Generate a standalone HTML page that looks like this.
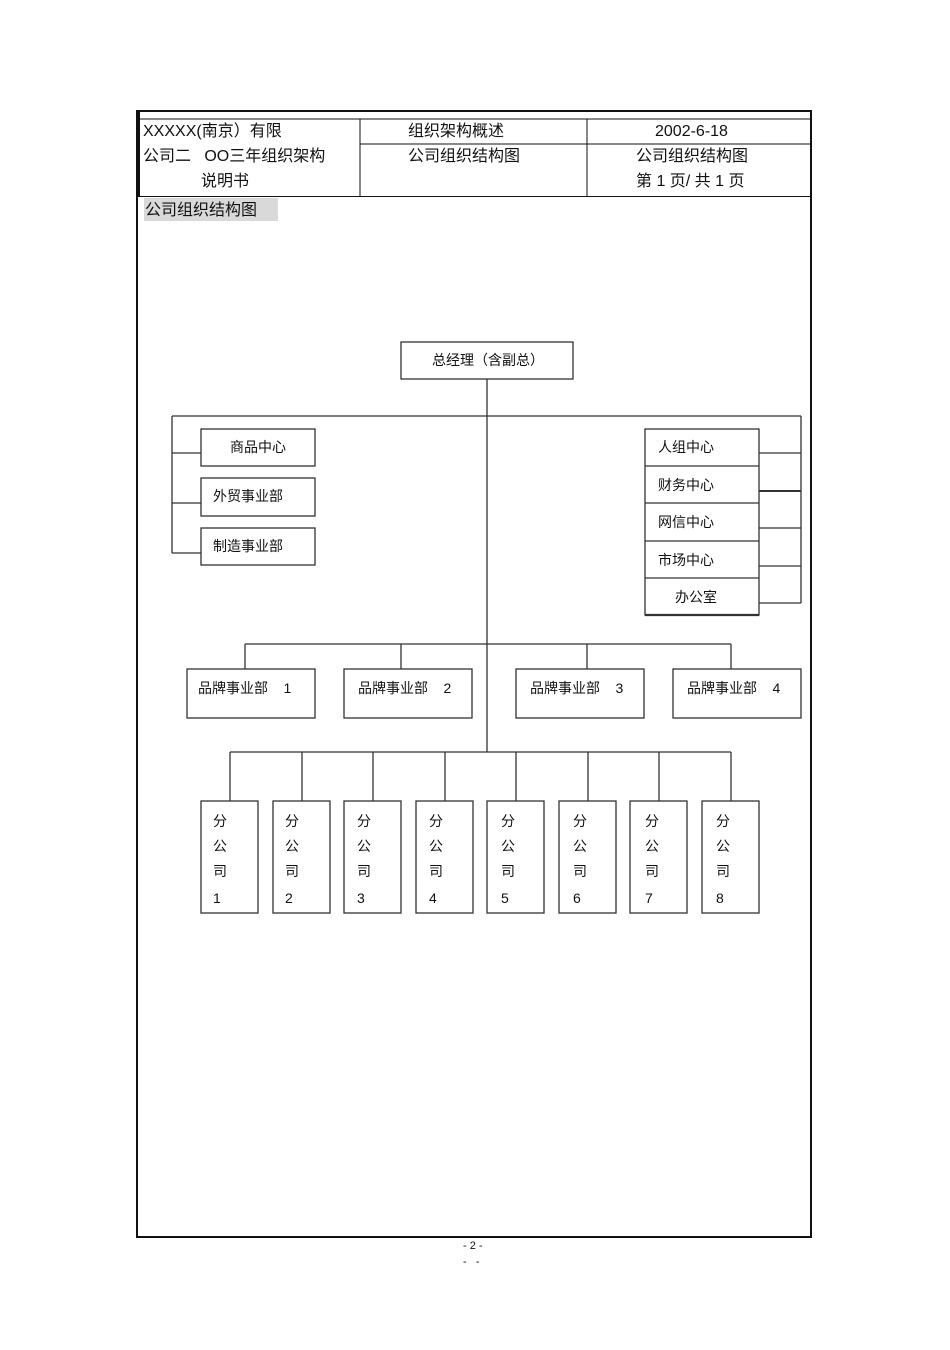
<!DOCTYPE html>
<html><head><meta charset="utf-8"><style>
body{margin:0;background:#fff;}
svg text{font-family:"Liberation Sans","Noto Sans CJK SC",sans-serif;fill:#111;white-space:pre;}
</style></head><body>
<svg width="950" height="1345" xmlns="http://www.w3.org/2000/svg" xml:space="preserve">
<g stroke="#111" fill="none">
<rect x="137" y="111" width="674" height="1126" stroke-width="2"/>
<line x1="137" y1="119" x2="811" y2="119" stroke-width="1"/>
<line x1="139" y1="111" x2="139" y2="196" stroke-width="2"/>
<line x1="360" y1="119" x2="360" y2="196"/>
<line x1="587" y1="119" x2="587" y2="196"/>
<line x1="360" y1="144" x2="811" y2="144"/>
<line x1="137" y1="196.5" x2="811" y2="196.5"/>
</g>
<rect x="144" y="198" width="134" height="23" fill="#d9d9d9"/>
<g font-size="16">
<text x="143" y="136">XXXXX(南京）有限</text>
<text x="143" y="161">公司二   OO三年组织架构</text>
<text x="201" y="186">说明书</text>
<text x="408" y="136">组织架构概述</text>
<text x="408" y="161">公司组织结构图</text>
<text x="655" y="136">2002-6-18</text>
<text x="636" y="161">公司组织结构图</text>
<text x="636" y="186">第 1 页/ 共 1 页</text>
<text x="145" y="215">公司组织结构图</text>
</g>
<g stroke="#333" fill="none" stroke-width="1.3">
<rect x="401" y="342" width="172" height="37"/>
<line x1="487" y1="379" x2="487" y2="752"/>
<line x1="172" y1="416" x2="801" y2="416"/>
<line x1="172" y1="416" x2="172" y2="553"/>
<line x1="172" y1="453" x2="201" y2="453"/>
<line x1="172" y1="503" x2="201" y2="503"/>
<line x1="172" y1="553" x2="201" y2="553"/>
<rect x="201" y="429" width="114" height="37"/>
<rect x="201" y="478" width="114" height="38"/>
<rect x="201" y="528" width="114" height="37"/>
<line x1="801" y1="416" x2="801" y2="603"/>
<line x1="759" y1="453" x2="801" y2="453"/>
<line x1="759" y1="491" x2="801" y2="491" stroke-width="2"/>
<line x1="759" y1="528" x2="801" y2="528"/>
<line x1="759" y1="566" x2="801" y2="566"/>
<line x1="759" y1="603" x2="801" y2="603"/>
<rect x="645" y="429" width="114" height="186"/>
<line x1="645" y1="466" x2="759" y2="466"/>
<line x1="645" y1="503" x2="759" y2="503"/>
<line x1="645" y1="541" x2="759" y2="541"/>
<line x1="645" y1="578" x2="759" y2="578"/>
<line x1="645" y1="615" x2="759" y2="615" stroke-width="2.2"/>
<line x1="245" y1="644" x2="731" y2="644"/>
<line x1="245" y1="644" x2="245" y2="669"/>
<line x1="401" y1="644" x2="401" y2="669"/>
<line x1="587" y1="644" x2="587" y2="669"/>
<line x1="731" y1="644" x2="731" y2="669"/>
<rect x="187" y="669" width="128" height="49"/>
<rect x="344" y="669" width="128" height="49"/>
<rect x="516" y="669" width="128" height="49"/>
<rect x="673" y="669" width="128" height="49"/>
<line x1="230" y1="752" x2="731" y2="752"/>
<line x1="230" y1="752" x2="230" y2="801"/><line x1="302" y1="752" x2="302" y2="801"/>
<line x1="373" y1="752" x2="373" y2="801"/><line x1="445" y1="752" x2="445" y2="801"/>
<line x1="516" y1="752" x2="516" y2="801"/><line x1="588" y1="752" x2="588" y2="801"/>
<line x1="659" y1="752" x2="659" y2="801"/><line x1="731" y1="752" x2="731" y2="801"/>
<rect x="201" y="801" width="57" height="112"/><rect x="273" y="801" width="57" height="112"/>
<rect x="344" y="801" width="57" height="112"/><rect x="416" y="801" width="57" height="112"/>
<rect x="487" y="801" width="57" height="112"/><rect x="559" y="801" width="57" height="112"/>
<rect x="630" y="801" width="57" height="112"/><rect x="702" y="801" width="57" height="112"/>
</g>
<g font-size="14">
<text x="432" y="365">总经理（含副总）</text>
<text x="230" y="452">商品中心</text>
<text x="213" y="501">外贸事业部</text>
<text x="213" y="551">制造事业部</text>
<text x="658" y="452">人组中心</text>
<text x="658" y="490">财务中心</text>
<text x="658" y="527">网信中心</text>
<text x="658" y="565">市场中心</text>
<text x="675" y="602">办公室</text>
<text x="198" y="693">品牌事业部    1</text>
<text x="358" y="693">品牌事业部    2</text>
<text x="530" y="693">品牌事业部    3</text>
<text x="687" y="693">品牌事业部    4</text>
</g>
<g font-size="14">
<text x="213" y="826">分</text><text x="213" y="851">公</text><text x="213" y="876">司</text><text x="213" y="903">1</text>
<text x="285" y="826">分</text><text x="285" y="851">公</text><text x="285" y="876">司</text><text x="285" y="903">2</text>
<text x="357" y="826">分</text><text x="357" y="851">公</text><text x="357" y="876">司</text><text x="357" y="903">3</text>
<text x="429" y="826">分</text><text x="429" y="851">公</text><text x="429" y="876">司</text><text x="429" y="903">4</text>
<text x="501" y="826">分</text><text x="501" y="851">公</text><text x="501" y="876">司</text><text x="501" y="903">5</text>
<text x="573" y="826">分</text><text x="573" y="851">公</text><text x="573" y="876">司</text><text x="573" y="903">6</text>
<text x="645" y="826">分</text><text x="645" y="851">公</text><text x="645" y="876">司</text><text x="645" y="903">7</text>
<text x="716" y="826">分</text><text x="716" y="851">公</text><text x="716" y="876">司</text><text x="716" y="903">8</text>
</g>
<text x="463" y="1249" font-size="11">- 2 -</text>
<text x="463" y="1265" font-size="11">-   -</text>
</svg>
</body></html>
